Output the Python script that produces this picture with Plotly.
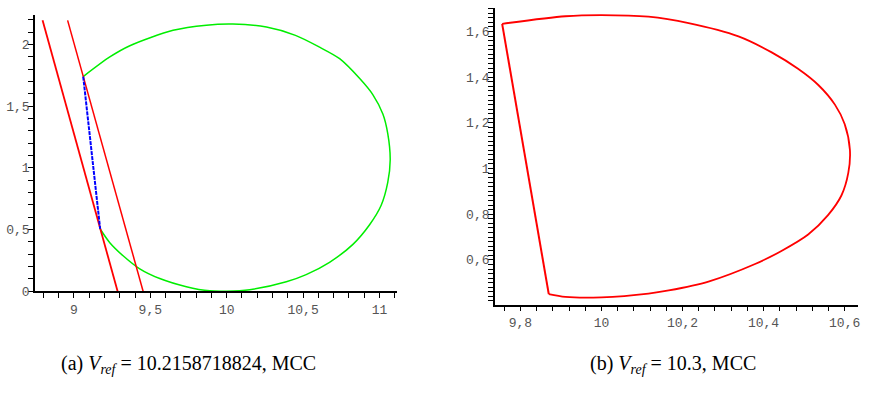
import plotly.graph_objects as go

# ---- panel (a): V_ref = 10.2158718824 ----
green_x = [9.061, 9.235, 9.366, 9.649, 9.867, 10.04, 10.26, 10.45, 10.608, 10.739, 10.869,
           10.956, 11.022, 11.054, 11.07, 11.054, 11.011, 10.935, 10.826, 10.673, 10.52,
           10.39, 10.15, 9.998, 9.889, 9.736, 9.562, 9.431, 9.322, 9.235, 9.172]
green_y = [1.741, 1.9, 1.991, 2.116, 2.158, 2.167, 2.142, 2.075, 1.979, 1.886, 1.727,
           1.595, 1.437, 1.278, 1.067, 0.882, 0.697, 0.539, 0.38, 0.235, 0.135,
           0.077, 0.012, 0.0, 0.003, 0.037, 0.103, 0.182, 0.288, 0.394, 0.505]
red1_x = [8.795, 9.286]
red1_y = [2.197, 0.0]
red2_x = [8.959, 9.453]
red2_y = [2.197, 0.0]
blue_x = [9.061, 9.172]
blue_y = [1.741, 0.505]

a_xticks = [9, 9.5, 10, 10.5, 11]
a_xtext = ["9", "9,5", "10", "10,5", "11"]
a_yticks = [0, 0.5, 1, 1.5, 2]
a_ytext = ["0", "0,5", "1", "1,5", "2"]

# ---- panel (b): V_ref = 10.3 ----
# curved boundary, from the upper-left corner round to the lower-left corner
b_arc_x = [9.755, 9.911, 10.0, 10.116, 10.215, 10.338, 10.42, 10.485, 10.535, 10.576, 10.6,
           10.613, 10.609, 10.592, 10.559, 10.51, 10.444, 10.379, 10.264, 10.166, 10.116,
           10.0, 9.911, 9.870]
b_arc_y = [1.634, 1.667, 1.672, 1.665, 1.637, 1.579, 1.509, 1.437, 1.366, 1.28, 1.195,
           1.081, 0.981, 0.882, 0.796, 0.711, 0.639, 0.582, 0.505, 0.466, 0.452,
           0.436, 0.438, 0.45]
# straight left boundary
b_edge_x = [9.870, 9.755]
b_edge_y = [0.45, 1.634]

b_xticks = [9.8, 10, 10.2, 10.4, 10.6]
b_xtext = ["9,8", "10", "10,2", "10,4", "10,6"]
b_yticks = [0.6, 0.8, 1, 1.2, 1.4, 1.6]
b_ytext = ["0,6", "0,8", "1", "1,2", "1,4", "1,6"]

captions = ["(a) <i>V</i><sub><i>ref</i></sub> = 10.2158718824, MCC",
            "(b) <i>V</i><sub><i>ref</i></sub> = 10.3, MCC"]

W, H = 869, 397
fig = go.Figure()

fig.add_trace(go.Scatter(x=green_x, y=green_y, mode="lines",
                         line=dict(color="#00ee00", width=1.5, shape="spline", smoothing=0.8),
                         xaxis="x", yaxis="y"))
fig.add_trace(go.Scatter(x=red1_x, y=red1_y, mode="lines",
                         line=dict(color="#ff0000", width=1.8), xaxis="x", yaxis="y"))
fig.add_trace(go.Scatter(x=red2_x, y=red2_y, mode="lines",
                         line=dict(color="#ff0000", width=1.5), xaxis="x", yaxis="y"))
fig.add_trace(go.Scatter(x=blue_x, y=blue_y, mode="lines",
                         line=dict(color="#0000ff", width=2, dash="4px,1px"), xaxis="x", yaxis="y"))
fig.add_trace(go.Scatter(x=b_arc_x, y=b_arc_y, mode="lines",
                         line=dict(color="#ff0000", width=1.8, shape="spline", smoothing=0.8),
                         xaxis="x2", yaxis="y2"))
fig.add_trace(go.Scatter(x=b_edge_x, y=b_edge_y, mode="lines",
                         line=dict(color="#ff0000", width=2), xaxis="x2", yaxis="y2"))

tickfont = dict(family="Liberation Mono, Courier New, monospace", size=13, color="#555")
common = dict(showline=True, linecolor="black", linewidth=1.5, showgrid=False, zeroline=False,
              ticks="outside", ticklen=5, tickwidth=1, tickcolor="black", tickfont=tickfont)

fig.update_layout(
    width=W, height=H, margin=dict(l=0, r=0, t=0, b=0),
    paper_bgcolor="white", plot_bgcolor="white", showlegend=False,
    xaxis=dict(domain=[35 / W, 398 / W], range=[8.745, 11.115], anchor="y",
               tickvals=a_xticks, ticktext=a_xtext,
               minor=dict(dtick=0.1, tick0=0, ticks="outside", ticklen=5, tickcolor="black"),
               **common),
    yaxis=dict(domain=[1 - 298 / H, 1 - 15 / H], range=[0, 2.243], anchor="x",
               tickvals=a_yticks, ticktext=a_ytext, ticklabelstandoff=-4,
               minor=dict(dtick=0.1, tick0=0, ticks="outside", ticklen=5, tickcolor="black"),
               **common),
    xaxis2=dict(domain=[496 / W, 860 / W], range=[9.737, 10.633], anchor="y2",
                tickvals=b_xticks, ticktext=b_xtext,
                minor=dict(dtick=0.04, tick0=0, ticks="outside", ticklen=5, tickcolor="black"),
                **common),
    yaxis2=dict(domain=[1 - 311.7 / H, 1 - 8 / H], range=[0.404, 1.704], anchor="x2",
                tickvals=b_yticks, ticktext=b_ytext, ticklabelstandoff=-4,
                minor=dict(dtick=0.02, tick0=0, ticks="outside", ticklen=5, tickcolor="black"),
                **common),
)

for cx, text in zip([189 / W, 675 / W], captions):
    fig.add_annotation(x=cx, y=1 - 373 / H, xref="paper", yref="paper", text=text,
                       showarrow=False, xanchor="center", yanchor="middle",
                       font=dict(family="Liberation Serif, Times New Roman, serif", size=20, color="black"))

fig.write_html("out.html")
